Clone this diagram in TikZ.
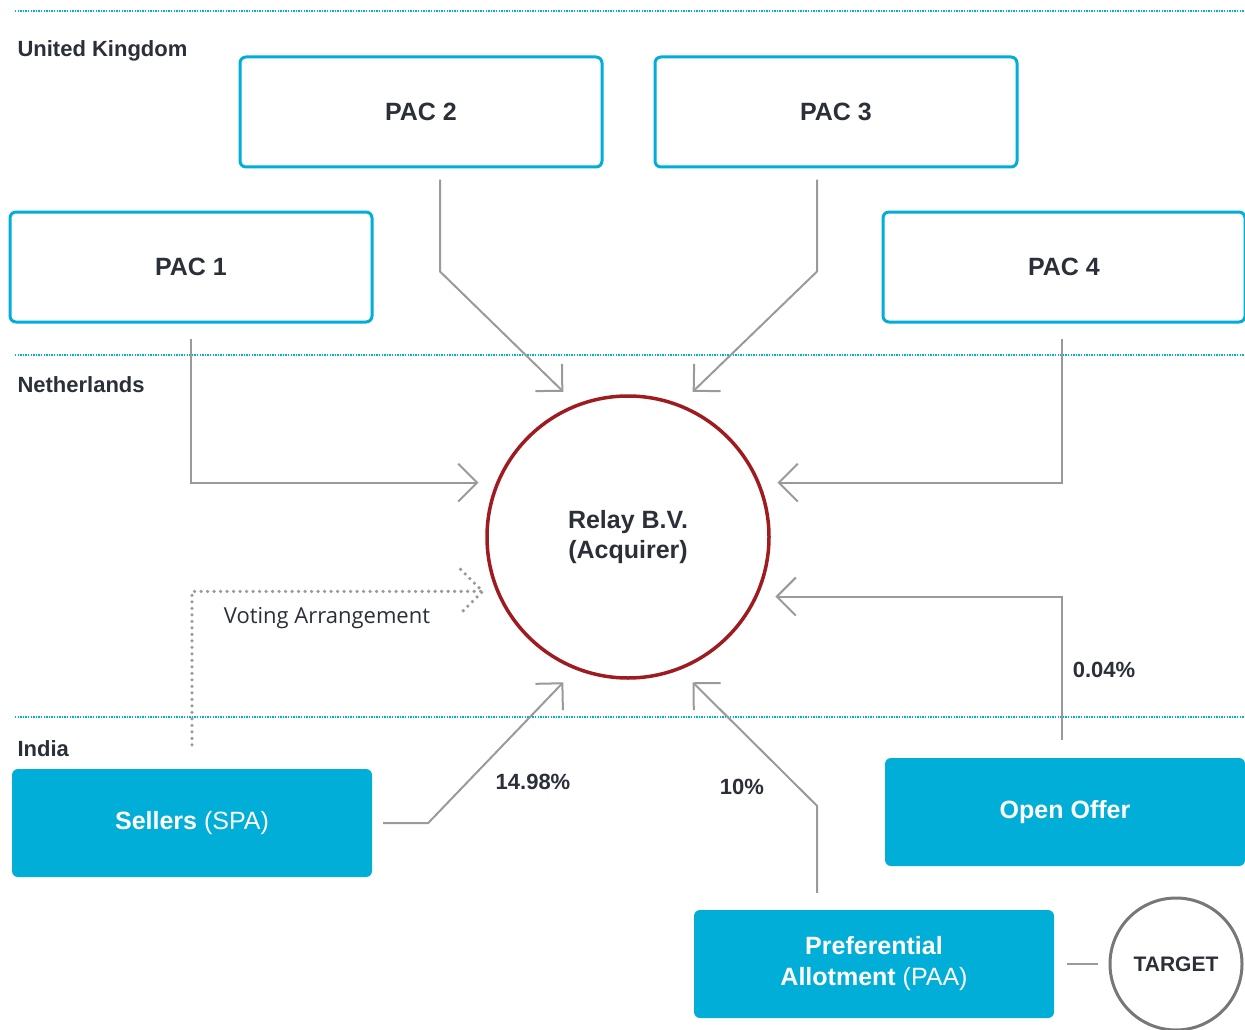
\documentclass[tikz,border=0pt]{standalone}
\usepackage{fontspec}
\setmainfont{Liberation Sans}
\newfontfamily\votefont{Open Sans}
\usetikzlibrary{arrows.meta}
\definecolor{pacblue}{HTML}{00AED8}
\definecolor{relayred}{HTML}{9E1B20}
\definecolor{inkdark}{HTML}{2B2F38}
\definecolor{flowgray}{HTML}{9A9A9A}
\definecolor{ringgray}{HTML}{777777}

\begin{document}
\begin{tikzpicture}[x=1pt,y=-1pt,
	pacBox/.style={draw=pacblue,line width=3pt,rounded corners=6pt,fill=white,
		minimum width=362pt,minimum height=110pt,text=inkdark,
		font=\fontsize{25}{30}\selectfont\bfseries},
	fillBox/.style={fill=pacblue,rounded corners=6pt,minimum width=360pt,
		minimum height=108pt,text=white,align=center,
		font=\fontsize{25}{31}\selectfont},
	region/.style={anchor=west,text=inkdark,font=\fontsize{22}{26}\selectfont\bfseries},
	share/.style={text=inkdark,font=\fontsize{22}{26}\selectfont\bfseries},
	divider/.style={draw=pacblue,line width=1.3pt,dash pattern=on 1.3pt off 1.3pt},
	flow/.style={draw=flowgray,line width=2pt,-{Straight Barb[length=19pt,width=38pt]}},
	voteLine/.style={draw=flowgray,line width=3.6pt,line cap=round,dash pattern=on 0pt off 6.5pt},
	link/.style={draw=flowgray,line width=2pt}]
\useasboundingbox (0,0) rectangle (1245,1030);

\draw[divider] (15,11) -- (1245,11);
\draw[divider] (15,355) -- (1245,355);
\draw[divider] (15,717) -- (1245,717);

\node[region] (uk) at (14,51) {United Kingdom};
\node[region] (nl) at (14,385) {Netherlands};
\node[region] (india) at (14,749) {India};

\node[pacBox] (pac2) at (421,112) {PAC 2};
\node[pacBox] (pac3) at (836,112) {PAC 3};
\node[pacBox] (pac1) at (191,267) {PAC 1};
\node[pacBox] (pac4) at (1064,267) {PAC 4};

\node[circle,draw=relayred,line width=3.5pt,minimum size=282pt,outer sep=18pt,
	align=center,text=inkdark,font=\fontsize{25}{30}\selectfont\bfseries]
	(relay) at (628,537) {Relay B.V.\\(Acquirer)};

\node[fillBox] (sellers) at (192,823) {\textbf{Sellers} (SPA)};
\node[fillBox] (offer) at (1065,812) {\textbf{Open Offer}};
\node[fillBox] (paa) at (874,964) {\textbf{Preferential}\\\textbf{Allotment} (PAA)};

\node[circle,draw=ringgray,line width=3pt,minimum size=132pt,text=inkdark,
	font=\fontsize{21}{25}\selectfont\bfseries] (target) at (1176,964) {TARGET};

\draw[flow] ([xshift=19pt,yshift=-11pt]pac2.south) -- ++(0,92) -- (relay.114);
\draw[flow] ([xshift=-19pt,yshift=-11pt]pac3.south) -- ++(0,92) -- (relay.66);
\draw[flow] ([yshift=-15pt]pac1.south) |- (relay.160);
\draw[flow] ([xshift=-2pt,yshift=-15pt]pac4.south) |- (relay.20);
\draw[flow] ([xshift=-3pt,yshift=18pt]offer.north) |- (relay.-22);
\draw[flow] ([xshift=11pt]sellers.east) -- ++(45,0) -- (relay.246);
\draw[flow] ([xshift=-57pt,yshift=17pt]paa.north) -- ++(0,-87) -- (relay.294);

\draw[voteLine] ([yshift=24pt]sellers.north) |- ([xshift=4pt]relay.200)
	++(-22,-22) -- ([xshift=4pt]relay.200) -- ++(-22,22);
\node[text=inkdark,font=\votefont\fontsize{22}{26}\selectfont] (vote) at (327,618) {Voting Arrangement};

\draw[link] ([xshift=13pt]paa.east) -- ([xshift=-11pt]target.west);

\node[share] (sellersShare) at (533,782) {14.98\%};
\node[share] (paaShare) at (742,787) {10\%};
\node[share] (offerShare) at (1104,670) {0.04\%};
\end{tikzpicture}
\end{document}
